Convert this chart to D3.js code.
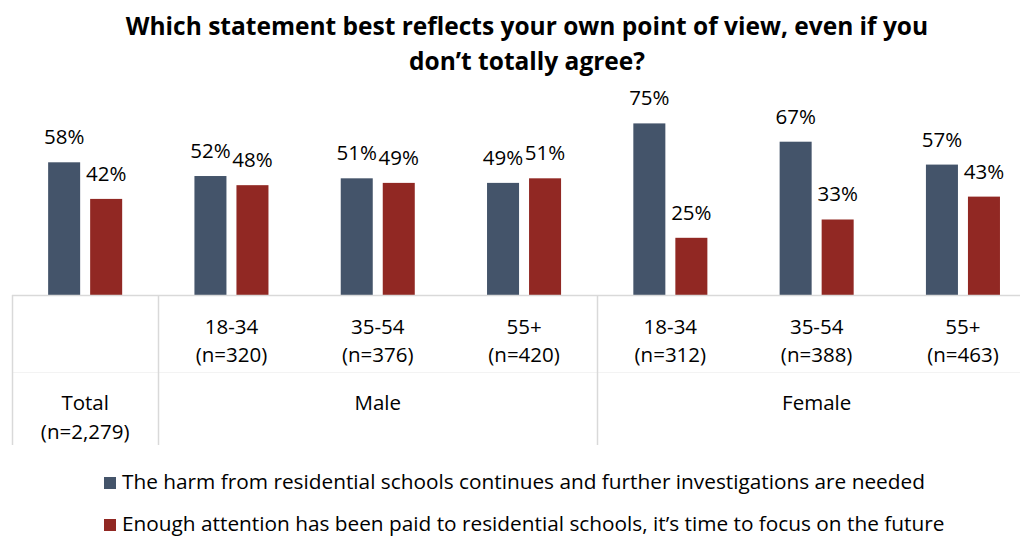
<!DOCTYPE html>
<html>
<head>
<meta charset="utf-8">
<script src="https://cdn.jsdelivr.net/npm/d3@7/dist/d3.min.js"></script>
<style>
  html, body { margin: 0; padding: 0; background: #fff; }
  svg { display: block; font-family: "Open Sans", "Noto Sans", sans-serif; }
</style>
</head>
<body>
<svg id="chart" width="1020" height="537"></svg>
<script>
// Survey breakdown: two opposing statements by gender and age group
const categories = ["Total", "M18-34", "M35-54", "M55+", "F18-34", "F35-54", "F55+"];
const ageLabels = ["", "18-34", "35-54", "55+", "18-34", "35-54", "55+"];
const sampleLabels = ["", "(n=320)", "(n=376)", "(n=420)", "(n=312)", "(n=388)", "(n=463)"];
const harmContinues = [58, 52, 51, 49, 75, 67, 57];
const timeToFocus = [42, 48, 49, 51, 25, 33, 43];
const seriesNames = [
  "The harm from residential schools continues and further investigations are needed",
  "Enough attention has been paid to residential schools, it\u2019s time to focus on the future"
];
const seriesColors = ["#44546A", "#912823"];
const groups = [
  { label: ["Total", "(n=2,279)"], from: "Total", to: "Total" },
  { label: ["Male"], from: "M18-34", to: "M55+" },
  { label: ["Female"], from: "F18-34", to: "F55+" }
];
const titleLines = [
  "Which statement best reflects your own point of view, even if you",
  "don\u2019t totally agree?"
];

const svg = d3.select("#chart");
const baseY = 295;
const step = 146.3;
const left = 12;

const x0 = d3.scaleBand().domain(categories).range([left, left + step * categories.length]);
const x1 = d3.scaleBand().domain([0, 1]).range([0, x0.bandwidth()])
  .paddingInner(0.238).paddingOuter(0.86);
const y = d3.scaleLinear().domain([0, 100]).range([baseY, baseY - 228.8]);

// Title
svg.append("g").selectAll("text").data(titleLines).join("text")
  .attr("x", 527).attr("y", (d, i) => 35 + i * 35)
  .attr("text-anchor", "middle")
  .attr("font-size", 24.5).attr("font-weight", 700).attr("fill", "#000")
  .text(d => d);

// Bars
const rows = categories.map((c, i) => ({ c, vals: [harmContinues[i], timeToFocus[i]] }));
const cat = svg.append("g").selectAll("g").data(rows).join("g")
  .attr("transform", d => `translate(${x0(d.c)},0)`);

cat.selectAll("rect").data(d => d.vals.map((v, k) => ({ v, k }))).join("rect")
  .attr("x", d => x1(d.k)).attr("width", x1.bandwidth())
  .attr("y", d => y(d.v)).attr("height", d => baseY - y(d.v))
  .attr("fill", d => seriesColors[d.k]);

cat.selectAll("text.val").data(d => d.vals.map((v, k) => ({ v, k }))).join("text")
  .attr("class", "val")
  .attr("x", d => x1(d.k) + x1.bandwidth() / 2)
  .attr("y", d => y(d.v) - 18)
  .attr("text-anchor", "middle").attr("font-size", 20.5).attr("fill", "#000")
  .text(d => d.v + "%");

// Axis baseline and category separators
const axisColor = "#d9d9d9";
svg.append("line").attr("x1", left).attr("x2", 1020).attr("y1", baseY + 0.5).attr("y2", baseY + 0.5)
  .attr("stroke", axisColor).attr("stroke-width", 1.5);
svg.append("line").attr("x1", left).attr("x2", 1020).attr("y1", 372.5).attr("y2", 372.5)
  .attr("stroke", "#f3f3f3").attr("stroke-width", 1);
const seps = [x0("Total"), x0("M18-34"), x0("F18-34")];
svg.append("g").selectAll("line").data(seps).join("line")
  .attr("x1", d => Math.round(d) + 0.5).attr("x2", d => Math.round(d) + 0.5)
  .attr("y1", baseY).attr("y2", 445)
  .attr("stroke", axisColor).attr("stroke-width", 1.5);

// Age and sample-size labels
const lab = svg.append("g").attr("font-size", 20.5).attr("fill", "#000").attr("text-anchor", "middle");
lab.selectAll("text.age").data(categories).join("text").attr("class", "age")
  .attr("x", d => x0(d) + x0.bandwidth() / 2).attr("y", 334)
  .text((d, i) => ageLabels[i]);
lab.selectAll("text.n").data(categories).join("text").attr("class", "n")
  .attr("x", d => x0(d) + x0.bandwidth() / 2).attr("y", 362)
  .text((d, i) => sampleLabels[i]);

// Group labels
groups.forEach(g => {
  const cx = (x0(g.from) + x0(g.to) + x0.bandwidth()) / 2;
  g.label.forEach((t, j) => {
    lab.append("text").attr("x", cx).attr("y", 410 + j * 29).text(t);
  });
});

// Legend
const leg = svg.append("g").selectAll("g").data(seriesNames).join("g")
  .attr("transform", (d, i) => `translate(104,${477 + i * 42})`);
leg.append("rect").attr("width", 12).attr("height", 12).attr("fill", (d, i) => seriesColors[i]);
leg.append("text").attr("x", 18).attr("y", 12).attr("font-size", 20.8).attr("fill", "#000").text(d => d);
</script>
</body>
</html>
